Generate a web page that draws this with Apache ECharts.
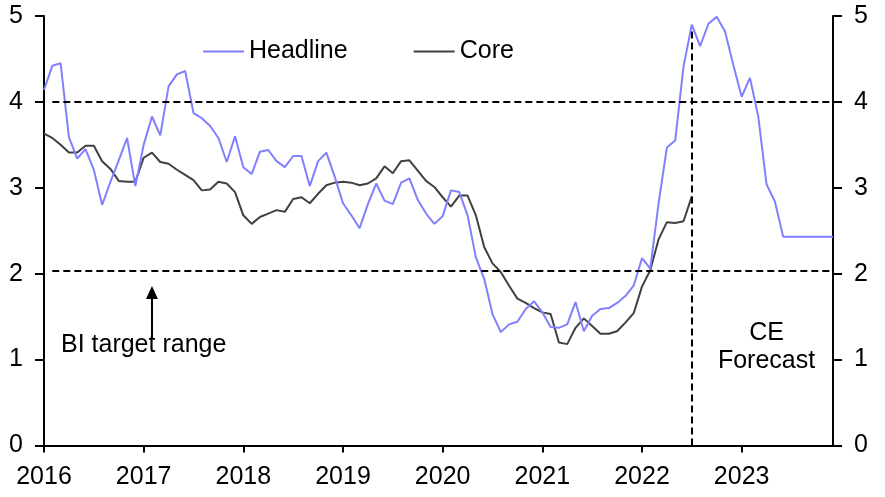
<!DOCTYPE html>
<html>
<head>
<meta charset="utf-8">
<script src="https://cdn.jsdelivr.net/npm/echarts@6/dist/echarts.min.js"></script>
<style>
html,body{margin:0;padding:0;background:#fff;}
#chart{width:885px;height:497px;}
</style>
</head>
<body>
<div id="chart"></div>
<script>
// Monthly data, Jan 2016 - Dec 2023
var startYear = 2016;
var endYear = 2023;
var yearLabels = ['2016','2017','2018','2019','2020','2021','2022','2023'];

var headline = [
  4.14, 4.42, 4.45, 3.59, 3.34, 3.45, 3.21, 2.80, 3.07, 3.32, 3.58, 3.02,
  3.50, 3.83, 3.61, 4.18, 4.32, 4.36, 3.87, 3.81, 3.72, 3.58, 3.30, 3.60,
  3.24, 3.16, 3.42, 3.44, 3.31, 3.24, 3.37, 3.37, 3.02, 3.31, 3.41, 3.13,
  2.82, 2.68, 2.53, 2.81, 3.05, 2.85, 2.81, 3.06, 3.11, 2.86, 2.70, 2.58,
  2.67, 2.97, 2.95, 2.68, 2.19, 1.94, 1.53, 1.32, 1.41, 1.44, 1.59, 1.68,
  1.55, 1.38, 1.37, 1.41, 1.67, 1.33, 1.51, 1.59, 1.60, 1.66, 1.74, 1.86,
  2.18, 2.06, 2.82, 3.47, 3.55, 4.41, 4.90, 4.65, 4.91, 4.99, 4.82, 4.43,
  4.06, 4.28, 3.83, 3.04, 2.84, 2.43, 2.43, 2.43, 2.43, 2.43, 2.43, 2.43
];

var core = [
  3.63, 3.58, 3.50, 3.41, 3.41, 3.49, 3.49, 3.31, 3.22, 3.08, 3.07, 3.07,
  3.35, 3.41, 3.30, 3.28, 3.21, 3.15, 3.09, 2.97, 2.98, 3.07, 3.05, 2.95,
  2.68, 2.58, 2.66, 2.70, 2.74, 2.72, 2.87, 2.89, 2.82, 2.93, 3.03, 3.06,
  3.07, 3.06, 3.03, 3.05, 3.11, 3.25, 3.17, 3.31, 3.32, 3.20, 3.08, 3.01,
  2.89, 2.78, 2.91, 2.91, 2.68, 2.31, 2.12, 2.02, 1.86, 1.71, 1.66, 1.60,
  1.55, 1.53, 1.20, 1.18, 1.37, 1.48, 1.39, 1.30, 1.30, 1.33, 1.43, 1.54,
  1.85, 2.04, 2.40, 2.60, 2.59, 2.61, 2.90
];

var targetUpper = 4;
var targetLower = 2.04;
var forecastStart = '2022-07';
var yTicks = [0, 1, 2, 3, 4, 5];

var months = [];
for (var y = startYear; y <= endYear; y++) {
  for (var m = 1; m <= 12; m++) {
    months.push(y + '-' + (m < 10 ? '0' + m : '' + m));
  }
}

var FONT = 'Liberation Sans, Arial, sans-serif';
var FS = 25;

var chart = echarts.init(document.getElementById('chart'), null, {renderer: 'canvas'});

function isJan(idx) { return idx % 12 === 0; }

var dashStyle = {color: '#000', width: 2, type: [7, 4]};

var option = {
  animation: false,
  backgroundColor: '#fff',
  textStyle: {fontFamily: FONT},
  grid: {left: 44, right: 52, top: 16, bottom: 51.5, outerBoundsMode: 'none', containLabel: false},
  legend: {
    left: 203, top: 39, padding: 0,
    icon: 'rect', itemWidth: 41, itemHeight: 2, itemGap: 66,
    textStyle: {fontSize: FS, color: '#000', fontFamily: FONT},
    data: ['Headline', 'Core']
  },
  xAxis: {
    type: 'category', data: months, boundaryGap: false,
    axisLine: {lineStyle: {color: '#000', width: 2}},
    axisTick: {show: true, interval: isJan, length: 7, lineStyle: {color: '#000', width: 2}},
    axisLabel: {interval: isJan, margin: 19, fontSize: FS, color: '#000', fontFamily: FONT,
      formatter: function (v) { return v.slice(0, 4); }},
    splitLine: {show: false}
  },
  yAxis: [
    {
      type: 'value', min: yTicks[0], max: yTicks[yTicks.length - 1], interval: 1, position: 'left',
      axisLine: {show: true, lineStyle: {color: '#000', width: 2}},
      axisTick: {show: true, length: 9, lineStyle: {color: '#000', width: 2}},
      axisLabel: {margin: 21, fontSize: FS, color: '#000', fontFamily: FONT},
      splitLine: {show: false}
    },
    {
      type: 'value', min: yTicks[0], max: yTicks[yTicks.length - 1], interval: 1, position: 'right',
      axisLine: {show: true, lineStyle: {color: '#000', width: 2}},
      axisTick: {show: true, length: 9, lineStyle: {color: '#000', width: 2}},
      axisLabel: {margin: 21, fontSize: FS, color: '#000', fontFamily: FONT},
      splitLine: {show: false}
    }
  ],
  series: [
    {
      name: 'Core', type: 'line', data: core, showSymbol: false, symbol: 'none',
      lineStyle: {color: '#404040', width: 2}, itemStyle: {color: '#404040'}, z: 3
    },
    {
      name: 'Headline', type: 'line', data: headline, showSymbol: false, symbol: 'none',
      lineStyle: {color: '#8080ff', width: 2}, itemStyle: {color: '#8080ff'}, z: 4,
      markLine: {
        silent: true, symbol: ['none', 'none'], label: {show: false},
        lineStyle: dashStyle,
        data: [
          [{coord: [months[1], targetUpper]}, {coord: [months[months.length - 1], targetUpper]}],
          [{coord: [months[1], targetLower]}, {coord: [months[months.length - 1], targetLower]}],
          [{coord: [forecastStart, 4.82]}, {coord: [forecastStart, 0]}],
          [{coord: ['2017-02', 1.25], symbol: 'none'},
           {coord: ['2017-02', 1.78], symbol: 'triangle', symbolSize: [12, 13],
            lineStyle: {color: '#000', width: 2, type: 'solid'}}]
        ]
      },
      markPoint: {
        silent: true, symbol: 'circle', symbolSize: 0,
        label: {show: true, color: '#000', fontSize: FS, fontFamily: FONT},
        data: [
          {coord: ['2017-01', 1.17], value: 'BI target range',
           label: {formatter: 'BI target range', align: 'center', verticalAlign: 'middle', position: 'inside'}},
          {coord: ['2023-04', 1.15], value: 'CE Forecast',
           label: {formatter: 'CE\nForecast', align: 'center', verticalAlign: 'middle', lineHeight: 28, position: 'inside'}}
        ]
      }
    }
  ]
};

chart.setOption(option);
</script>
</body>
</html>
